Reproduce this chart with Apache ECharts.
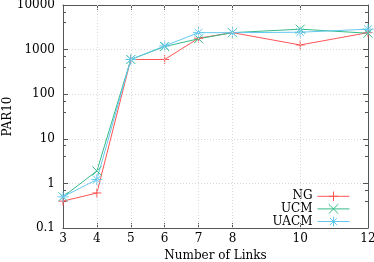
<!DOCTYPE html>
<html><head><meta charset="utf-8">
<script src="https://cdn.jsdelivr.net/npm/echarts@6/dist/echarts.min.js"></script>
<style>html,body{margin:0;padding:0;background:#fff}#c{width:374px;height:262px}</style>
</head><body><div id="c"></div>
<script>
const links = [3, 4, 5, 6, 7, 8, 10, 12];
const xTicks = [3, 4, 5, 6, 7, 8, 10, 12];
const ng   = [0.4, 0.61, 600, 600, 1800, 2400, 1270, 2400];
const ucm  = [0.5, 1.9, 600, 1170, 1750, 2400, 2870, 2330];
const uacm = [0.5, 1.22, 600, 1210, 2400, 2400, 2450, 2870];
const seriesNames = ['NG', 'UCM', 'UACM'];
const colors = ['#ff5555', '#33bb88', '#66c8f0'];

const FONT = 'DejaVu Serif';
const sym = {
  plus: 'path://M0,5L10,5M5,0L5,10',
  cross: 'path://M0,0L10,10M10,0L0,10',
  star: 'path://M0,5L10,5M5,0L5,10M1.5,1.5L8.5,8.5M8.5,1.5L1.5,8.5'
};
const symbols = [sym.plus, sym.cross, sym.star];
const sizes = [9, 9, 11];
function mk(i, vals) {
  const color = colors[i];
  return {
    name: seriesNames[i], type: 'line', data: links.map((x, k) => [x, vals[k]]),
    color,
    symbol: symbols[i], symbolSize: sizes[i], symbolKeepAspect: true, showSymbol: true,
    lineStyle: { color, width: 1 },
    itemStyle: { color: 'none', borderColor: color, borderWidth: 1 },
    emphasis: { disabled: true }, animation: false, z: 3
  };
}
const series = [mk(0, ng), mk(1, ucm), mk(2, uacm)];
// vertical dotted grid lines at x ticks
series[0].markLine = {
  silent: true, symbol: 'none', label: { show: false }, animation: false,
  lineStyle: { type: [1, 2], color: '#d8d8d8', width: 1 },
  data: xTicks.filter(v => v > 3 && v < 12).map(v => ({ xAxis: v }))
};
const axisLine = { show: true, lineStyle: { color: '#555', width: 1 } };
const chart = echarts.init(document.getElementById('c'), null, { renderer: 'canvas' });
chart.setOption({
  animation: false,
  textStyle: { fontFamily: FONT },
  grid: { left: 63, right: 6, top: 5, bottom: 34, containLabel: false, outerBoundsMode: 'none' },
  xAxis: [{
    type: 'value', min: 3, max: 12, interval: 1,
    name: 'Number of Links', nameLocation: 'middle', nameGap: 22, nameMoveOverlap: false,
    nameTextStyle: { fontFamily: FONT, fontSize: 12, color: '#000' },
    axisLine, axisTick: { show: true, inside: true, length: 5, customValues: xTicks, lineStyle: { color: '#555' } },
    axisLabel: { customValues: xTicks, fontFamily: FONT, fontSize: 12, color: '#000', margin: 5 },
    splitLine: { show: false }
  }, {
    type: 'value', position: 'top', min: 3, max: 12, interval: 1,
    axisLine, axisTick: { show: true, inside: true, length: 5, customValues: xTicks, lineStyle: { color: '#555' } },
    axisLabel: { show: false }, splitLine: { show: false }
  }],
  yAxis: [{
    type: 'log', logBase: 10, min: 0.1, max: 10000,
    name: 'PAR10', nameLocation: 'middle', nameGap: 49, nameRotate: 90, nameMoveOverlap: false,
    nameTextStyle: { fontFamily: FONT, fontSize: 12, color: '#000' },
    axisLine, axisTick: { show: true, inside: true, length: 5, lineStyle: { color: '#555' } },
    minorTick: { show: true, splitNumber: 3, length: 3, lineStyle: { color: '#555' } },
    axisLabel: { fontFamily: FONT, fontSize: 12, color: '#000', margin: 8,
      formatter: v => String(+v.toPrecision(6)) },
    splitLine: { show: true, lineStyle: { type: [1, 2], color: '#d8d8d8', width: 1 } }
  }, {
    type: 'log', logBase: 10, min: 0.1, max: 10000, position: 'right',
    axisLine, axisTick: { show: true, inside: true, length: 5, lineStyle: { color: '#555' } },
    minorTick: { show: true, splitNumber: 3, length: 3, lineStyle: { color: '#555' } },
    axisLabel: { show: false }, splitLine: { show: false }
  }],
  legend: {
    orient: 'vertical', right: 19, top: 184, itemGap: -2, itemWidth: 32, itemHeight: 12,
    align: 'right',
    data: seriesNames.map((n, i) => ({
      name: n,
      itemStyle: { color: 'none', borderColor: colors[i], borderWidth: 1 },
      lineStyle: { color: colors[i], width: 1 }
    })),
    textStyle: { fontFamily: FONT, fontSize: 12, color: '#000', lineHeight: 12 }
  },
  series
});
</script></body></html>
